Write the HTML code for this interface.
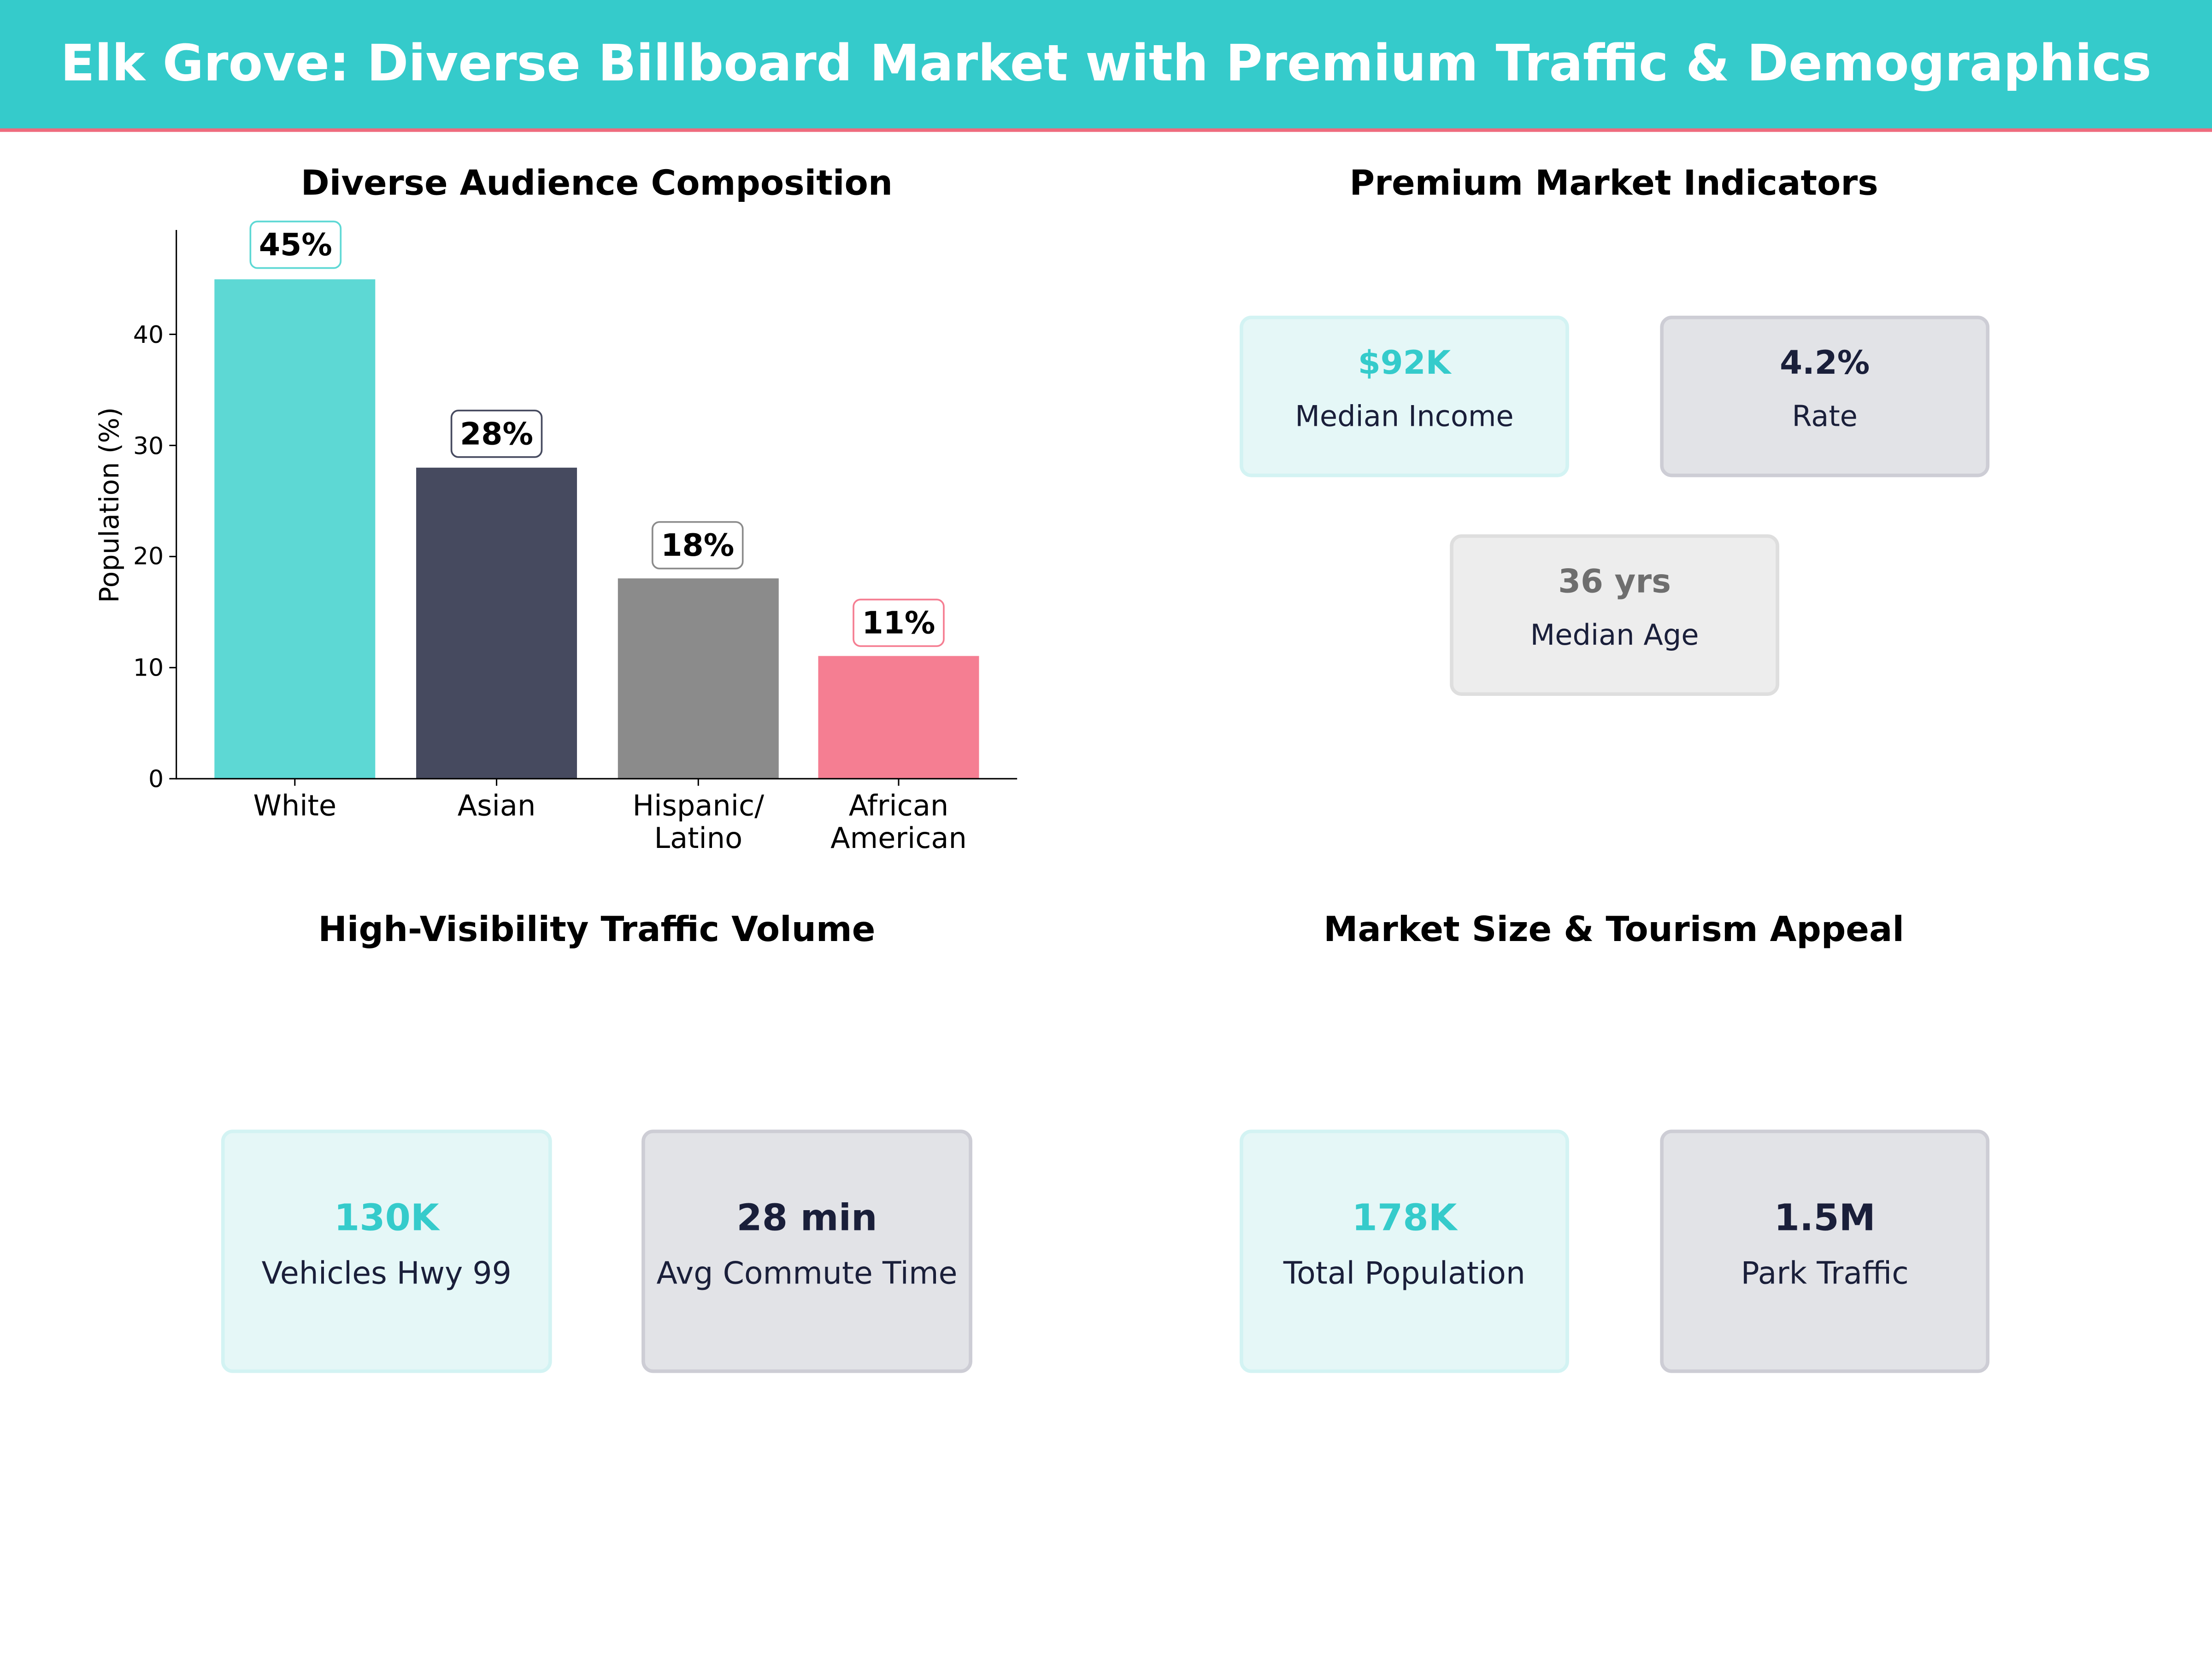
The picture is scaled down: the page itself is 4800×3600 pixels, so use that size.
<!DOCTYPE html>
<html><head><meta charset="utf-8"><style>
html,body{margin:0;padding:0;background:#fff}
svg{display:block}
text{font-family:"DejaVu Sans","Liberation Sans",sans-serif}
</style></head><body>
<svg width="4800" height="3600" viewBox="0 0 1568 1176" xmlns="http://www.w3.org/2000/svg">
<rect x="0" y="0" width="1568" height="1176" fill="#fff"/>
<rect x="0" y="0" width="1568" height="92" fill="#35CBCB"/>
<rect x="0" y="91" width="1568" height="2.5" fill="#EE6B7E"/>
<text x="784" y="57" text-anchor="middle" font-size="35.5" font-weight="bold" fill="#fff">Elk Grove: Diverse Billboard Market with Premium Traffic &amp; Demographics</text>

<g font-size="24.4" font-weight="bold" fill="#000" text-anchor="middle">
<text x="423" y="138">Diverse Audience Composition</text>
<text x="1144" y="138">Premium Market Indicators</text>
<text x="423" y="667">High-Visibility Traffic Volume</text>
<text x="1144" y="667">Market Size &amp; Tourism Appeal</text>
</g>

<rect x="152" y="198" width="114" height="354" fill="#5DD8D4"/>
<rect x="295" y="331.5" width="114" height="220.5" fill="#464A5F"/>
<rect x="438" y="410" width="114" height="142" fill="#8B8B8B"/>
<rect x="580" y="465" width="114" height="87" fill="#F57E92"/>
<line x1="125" y1="163" x2="125" y2="552.5" stroke="#000" stroke-width="1"/>
<line x1="124.5" y1="552" x2="721" y2="552" stroke="#000" stroke-width="1"/>
<g stroke="#000" stroke-width="1">
<line x1="120" y1="552" x2="125" y2="552"/><line x1="120" y1="473.25" x2="125" y2="473.25"/>
<line x1="120" y1="394.5" x2="125" y2="394.5"/><line x1="120" y1="315.75" x2="125" y2="315.75"/>
<line x1="120" y1="237" x2="125" y2="237"/>
<line x1="209" y1="552" x2="209" y2="557"/><line x1="352" y1="552" x2="352" y2="557"/>
<line x1="495" y1="552" x2="495" y2="557"/><line x1="637" y1="552" x2="637" y2="557"/>
</g>
<g font-size="17" fill="#000" text-anchor="end">
<text x="116" y="558">0</text><text x="116" y="479">10</text><text x="116" y="400">20</text>
<text x="116" y="322">30</text><text x="116" y="243">40</text>
</g>
<text transform="translate(84,358) rotate(-90)" font-size="19" text-anchor="middle">Population (%)</text>
<g font-size="20.3" fill="#000" text-anchor="middle">
<text x="209" y="578">White</text><text x="352" y="578">Asian</text>
<text x="495" y="578">Hispanic/</text><text x="495" y="601">Latino</text>
<text x="637" y="578">African</text><text x="637" y="601">American</text>
</g>
<g font-size="21.7" font-weight="bold" text-anchor="middle">
<rect x="177.5" y="157" width="64" height="33" rx="5" fill="#fff" stroke="#5DD8D4" stroke-width="1.2"/>
<text x="209.5" y="181">45%</text>
<rect x="320" y="291" width="64" height="33" rx="5" fill="#fff" stroke="#464A5F" stroke-width="1.2"/>
<text x="352" y="315">28%</text>
<rect x="462.5" y="370" width="64" height="33" rx="5" fill="#fff" stroke="#8B8B8B" stroke-width="1.2"/>
<text x="494.5" y="394">18%</text>
<rect x="605" y="425" width="64" height="33" rx="5" fill="#fff" stroke="#F57E92" stroke-width="1.2"/>
<text x="637" y="449">11%</text>
</g>

<g stroke-width="2.5">
<rect x="880" y="225" width="231" height="112" rx="7" fill="#E5F7F7" stroke="#D3F3F3"/>
<rect x="1178" y="225" width="231" height="112" rx="7" fill="#E2E3E7" stroke="#CDCDD5"/>
<rect x="1029" y="380" width="231" height="112" rx="7" fill="#EDEDED" stroke="#DEDEDE"/>
<rect x="158" y="802" width="232" height="170" rx="7" fill="#E5F7F7" stroke="#D3F3F3"/>
<rect x="456" y="802" width="232" height="170" rx="7" fill="#E2E3E7" stroke="#CDCDD5"/>
<rect x="880" y="802" width="231" height="170" rx="7" fill="#E5F7F7" stroke="#D3F3F3"/>
<rect x="1178" y="802" width="231" height="170" rx="7" fill="#E2E3E7" stroke="#CDCDD5"/>
</g>
<g text-anchor="middle">
<g font-size="23" font-weight="bold">
<text x="995.5" y="265" fill="#35CBCB">$92K</text>
<text x="1293.5" y="265" fill="#1A1F3A">4.2%</text>
<text x="1144.5" y="420" fill="#6E6E6E">36 yrs</text>
<text x="274" y="872" fill="#35CBCB" font-size="26">130K</text>
<text x="572" y="872" fill="#1A1F3A" font-size="26">28 min</text>
<text x="995.5" y="872" fill="#35CBCB" font-size="26">178K</text>
<text x="1293.5" y="872" fill="#1A1F3A" font-size="26">1.5M</text>
</g>
<g font-size="20.3" fill="#1A1F3A">
<text x="995.5" y="302">Median Income</text>
<text x="1293.5" y="302">Rate</text>
<text x="1144.5" y="457">Median Age</text>
<text x="274" y="910" font-size="21.7">Vehicles Hwy 99</text>
<text x="572" y="910" font-size="21.7">Avg Commute Time</text>
<text x="995.5" y="910" font-size="21.7">Total Population</text>
<text x="1293.5" y="910" font-size="21.7">Park Traffic</text>
</g>
</g>
</svg>
</body></html>
